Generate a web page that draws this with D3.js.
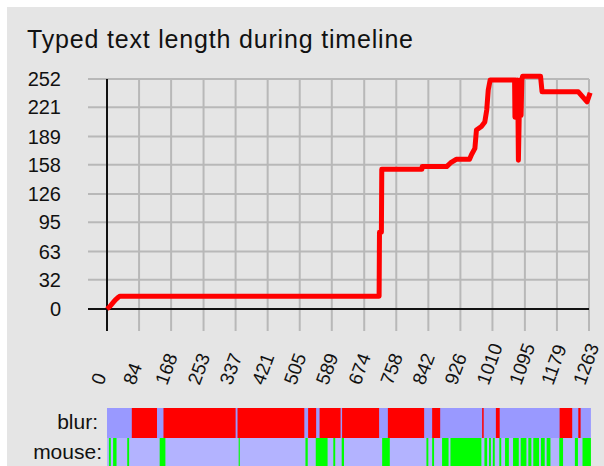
<!DOCTYPE html>
<html><head><meta charset="utf-8">
<script src="https://cdn.jsdelivr.net/npm/d3@7/dist/d3.min.js"></script>
<style>html,body{margin:0;padding:0;background:#fff;}svg{display:block;}</style>
</head><body>
<svg id="c" width="604" height="466"></svg>
<script>
const title = "Typed text length during timeline";
const xTickLabels = [0,84,168,253,337,421,505,589,674,758,842,926,1010,1095,1179,1263];
const yTickLabels = [0,32,63,95,126,158,189,221,252];
// typed length over time [time, length]
const lengthTime = [0,8,12,18,22,30,34,713,714,719,720,825,826,890,900,915,950,955,964,968,981,990,995,999,1004,1068,1069,1071,1073,1075,1077,1078,1080,1082,1085,1087,1089,1136,1140,1235,1258,1266];
const lengthValue = [0,3,5,8,10,13,14,14,84,84,153,153,156,156,160,164,164,169,176,196,200,205,218,240,251,251,210,251,212,251,210,163,208,251,212,251,255,255,238,238,227,237];
// blur row: red intervals (focus lost)
const blurRed = [[65,131],[148,337],[342,517],[527,548],[557,612],[616,713],[736,831],[852,873],[983,987],[1019,1029],[1186,1219],[1235,1241]];
// mouse row: green intervals
const mouseGreen = [[5,10],[16,25],[53,58],[138,153],[345,348],[520,526],[547,578],[593,598],[615,621],[721,741],[837,842],[852,857],[878,895],[900,981],[989,996],[1001,1006],[1011,1016],[1028,1033],[1043,1053],[1064,1079],[1084,1099],[1104,1112],[1117,1132],[1137,1147],[1152,1162],[1185,1195],[1226,1234],[1246,1268]];
const rowEnd = 1268;

const svg = d3.select("#c");
const x = d3.scaleLinear().domain([0,1263]).range([107,589]);
const y = d3.scaleLinear().domain([0,252]).range([309,79]);

svg.append("rect").attr("x",7).attr("y",7).attr("width",597).attr("height",459).attr("fill","#e5e5e5");

svg.append("text").attr("x",27).attr("y",48).attr("font-family","Liberation Sans, Arial, sans-serif")
  .attr("font-size",25).attr("fill","#111").attr("textLength",386).attr("lengthAdjust","spacing").text(title);

const grid = svg.append("g");
grid.selectAll("line.h").data(yTickLabels).join("line")
  .attr("x1",88).attr("x2",x(1263)).attr("y1",d=>y(d)).attr("y2",d=>y(d))
  .attr("stroke","#b8b8b8").attr("stroke-width",2);
grid.selectAll("line.v").data(xTickLabels).join("line")
  .attr("x1",d=>x(d)).attr("x2",d=>x(d)).attr("y1",y(252)).attr("y2",331)
  .attr("stroke","#b8b8b8").attr("stroke-width",2);
// axes
svg.append("line").attr("x1",88).attr("x2",x(1263)).attr("y1",y(0)).attr("y2",y(0)).attr("stroke","#111").attr("stroke-width",2);
svg.append("line").attr("x1",x(0)).attr("x2",x(0)).attr("y1",y(252)).attr("y2",331).attr("stroke","#111").attr("stroke-width",2);

svg.append("g").selectAll("text").data(yTickLabels).join("text")
  .attr("x",61).attr("y",d=>y(d)).attr("dy","0.36em").attr("text-anchor","end")
  .attr("font-family","Liberation Sans, Arial, sans-serif").attr("font-size",20).attr("fill","#111").text(d=>d);

svg.append("g").selectAll("text").data(xTickLabels).join("text")
  .attr("transform",d=>`translate(${x(d)-4},386) rotate(-70)`).attr("text-anchor","start")
  .attr("font-family","Liberation Sans, Arial, sans-serif").attr("font-size",19).attr("fill","#111").text(d=>d);

// line
const pts = lengthTime.map((t,i)=>[t,lengthValue[i]]);
svg.append("path").datum(pts).attr("fill","none").attr("stroke","#ff0000").attr("stroke-width",5)
  .attr("stroke-linejoin","round").attr("d",d3.line().x(d=>x(d[0])).y(d=>y(d[1])));

// rows
svg.append("rect").attr("x",x(0)).attr("y",408).attr("width",x(rowEnd)-x(0)).attr("height",30).attr("fill","#9999ff");
svg.append("g").selectAll("rect").data(blurRed).join("rect")
  .attr("x",d=>x(d[0])).attr("width",d=>x(d[1])-x(d[0])).attr("y",408).attr("height",30).attr("fill","#ff0000");
svg.append("rect").attr("x",x(0)).attr("y",438).attr("width",x(rowEnd)-x(0)).attr("height",28).attr("fill","#b3b3ff");
svg.append("g").selectAll("rect").data(mouseGreen).join("rect")
  .attr("x",d=>x(d[0])).attr("width",d=>x(d[1])-x(d[0])).attr("y",438).attr("height",28).attr("fill","#00ff00");

svg.append("text").attr("x",98).attr("y",429).attr("text-anchor","end").attr("font-family","Liberation Sans, Arial, sans-serif")
  .attr("font-size",21).attr("fill","#111").text("blur:");
svg.append("text").attr("x",102).attr("y",459).attr("text-anchor","end").attr("font-family","Liberation Sans, Arial, sans-serif")
  .attr("font-size",21).attr("fill","#111").text("mouse:");
</script>
</body></html>
